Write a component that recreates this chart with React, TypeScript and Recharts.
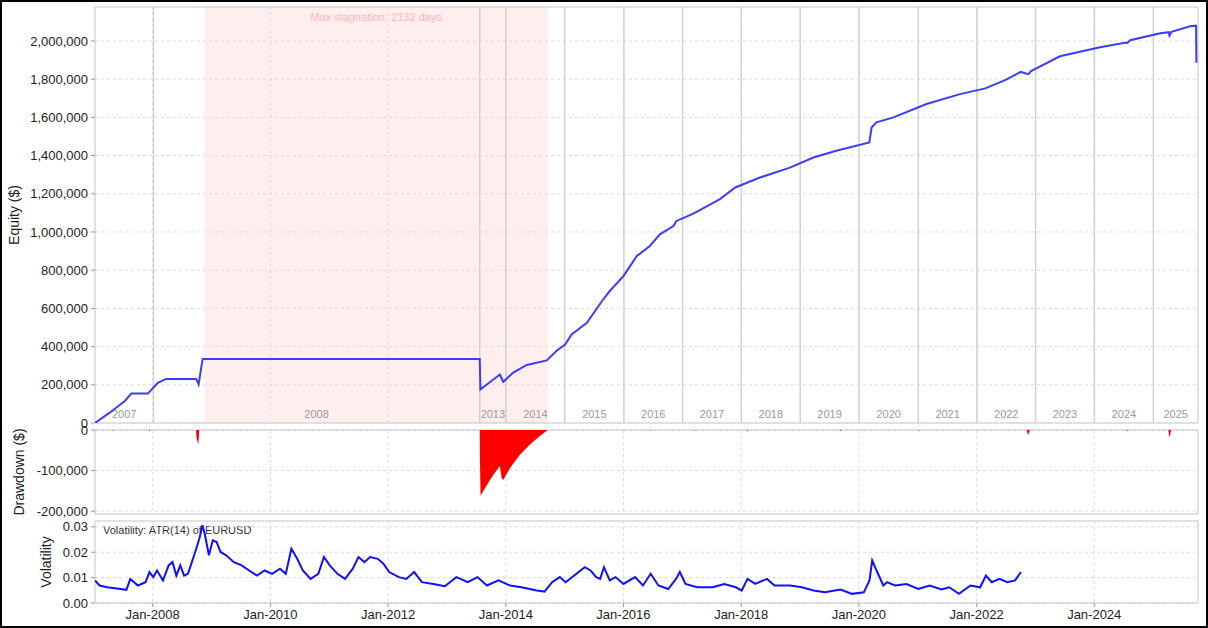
import React from "react";
import {
  LineChart,
  Line,
  AreaChart,
  Area,
  XAxis,
  YAxis,
  CartesianGrid,
  ReferenceLine,
  ReferenceArea,
} from "recharts";

// equity curve (closed trades)
const equityDates = [
  "2007-01-08", "2007-04-09", "2007-07-12", "2007-08-22", "2007-12-02",
  "2008-02-02", "2008-03-24", "2008-09-27", "2008-10-12", "2008-11-06",
  "2013-07-23", "2013-07-27", "2013-09-05", "2013-11-25", "2013-12-16",
  "2014-02-16", "2014-05-11", "2014-09-12", "2014-11-14", "2015-01-04",
  "2015-02-13", "2015-05-19", "2015-08-22", "2015-10-08", "2016-01-01",
  "2016-03-24", "2016-06-13", "2016-08-14", "2016-11-06", "2016-11-25",
  "2017-03-10", "2017-08-22", "2017-11-25", "2018-04-27", "2018-10-30",
  "2019-03-25", "2019-08-14", "2020-03-06", "2020-03-20", "2020-04-19",
  "2020-08-03", "2021-02-24", "2021-09-20", "2022-02-24", "2022-06-30",
  "2022-10-01", "2022-11-18", "2022-12-05", "2023-06-02", "2024-02-06",
  "2024-07-18", "2024-07-24", "2024-08-11", "2025-02-14", "2025-04-08",
  "2025-04-12", "2025-04-25", "2025-08-18", "2025-09-24", "2025-09-26",
];
const equityValues = [
  0, 54000, 115000, 154000, 154000,
  210000, 231000, 231000, 202000, 335000,
  335000, 176000, 202000, 254000, 216000,
  264000, 304000, 328000, 380000, 411000,
  464000, 525000, 640000, 691000, 769000,
  874000, 927000, 988000, 1031000, 1058000,
  1096000, 1172000, 1233000, 1285000, 1337000,
  1390000, 1425000, 1469000, 1547000, 1574000,
  1600000, 1670000, 1722000, 1752000, 1796000,
  1838000, 1826000, 1842000, 1920000, 1967000,
  1992000, 1989000, 2004000, 2040000, 2046000,
  2028000, 2048000, 2077000, 2080000, 1886000,
];

const drawdownDates = [
  "2007-01-08", "2007-04-23", "2007-04-28", "2007-05-03",
  "2007-12-07", "2007-12-12", "2007-12-17",
  "2008-09-26", "2008-09-29", "2008-10-11", "2008-10-16",
  "2013-07-23", "2013-07-24", "2013-07-28", "2013-09-06", "2013-10-16",
  "2013-11-25", "2013-12-06", "2013-12-16", "2014-01-26", "2014-03-29",
  "2014-05-30", "2014-07-31", "2014-09-19",
  "2016-06-15", "2016-06-20", "2016-06-25",
  "2017-03-10", "2017-03-15", "2017-03-20",
  "2018-02-04", "2018-02-09", "2018-02-14",
  "2019-09-04", "2019-09-09", "2019-09-14",
  "2021-01-05", "2021-01-10", "2021-01-15",
  "2022-11-08", "2022-11-13", "2022-11-18", "2022-11-28",
  "2024-07-17", "2024-07-22", "2024-07-27",
  "2025-04-05", "2025-04-10", "2025-04-13", "2025-04-22",
  "2025-10-06",
];
const drawdownValues = [
  0, 0, -2000, 0,
  0, -3000, 0,
  0, -20000, -35000, 0,
  0, -68000, -162000, -135000, -110000,
  -89000, -118000, -123000, -94000, -61000,
  -36000, -15000, 0,
  0, -2000, 0,
  0, -2000, 0,
  0, -4000, 0,
  0, -3000, 0,
  0, -2000, 0,
  0, -9000, -12000, 0,
  0, -3000, 0,
  0, -14000, -18000, 0,
  0,
];

// ATR(14) of EURUSD
const volDates = [
  "2007-01-08", "2007-02-06", "2007-03-25", "2007-05-12", "2007-07-22",
  "2007-08-15", "2007-10-01", "2007-11-18", "2007-12-12", "2008-01-05",
  "2008-01-28", "2008-03-05", "2008-04-09", "2008-05-03", "2008-05-27",
  "2008-06-20", "2008-07-14", "2008-08-07", "2008-08-31", "2008-09-24",
  "2008-10-17", "2008-11-05", "2008-11-21", "2008-12-15", "2009-01-08",
  "2009-02-01", "2009-02-25", "2009-04-01", "2009-05-19", "2009-07-06",
  "2009-08-22", "2009-10-09", "2009-11-26", "2010-01-11", "2010-03-01",
  "2010-04-06", "2010-05-11", "2010-06-16", "2010-07-21", "2010-09-07",
  "2010-10-25", "2010-11-29", "2011-01-04", "2011-02-21", "2011-04-09",
  "2011-05-27", "2011-07-01", "2011-08-07", "2011-09-11", "2011-10-29",
  "2011-12-03", "2012-01-08", "2012-03-08", "2012-04-23", "2012-06-11",
  "2012-07-29", "2012-10-08", "2012-12-18", "2013-02-28", "2013-05-10",
  "2013-07-09", "2013-09-06", "2013-11-16", "2014-01-27", "2014-04-08",
  "2014-07-12", "2014-08-29", "2014-10-15", "2014-12-02", "2015-01-07",
  "2015-05-06", "2015-06-11", "2015-07-16", "2015-08-09", "2015-09-02",
  "2015-10-08", "2015-11-13", "2016-01-01", "2016-03-13", "2016-05-01",
  "2016-06-18", "2016-08-05", "2016-10-05", "2016-11-22", "2016-12-16",
  "2017-01-20", "2017-04-02", "2017-07-07", "2017-09-18", "2017-11-29",
  "2018-01-04", "2018-02-09", "2018-03-29", "2018-06-09", "2018-07-27",
  "2018-11-01", "2019-01-12", "2019-03-26", "2019-06-05", "2019-09-09",
  "2019-11-20", "2020-02-01", "2020-03-07", "2020-03-24", "2020-04-24",
  "2020-06-01", "2020-06-24", "2020-08-12", "2020-10-23", "2021-01-04",
  "2021-03-16", "2021-05-28", "2021-07-15", "2021-09-13", "2021-11-24",
  "2022-01-23", "2022-02-28", "2022-04-05", "2022-05-23", "2022-07-10",
  "2022-08-28", "2022-10-03",
];
const volValues = [
  0.0089, 0.0069, 0.0062, 0.0058, 0.0052,
  0.0095, 0.0069, 0.0082, 0.0122, 0.0102,
  0.0128, 0.0089, 0.0148, 0.0161, 0.0108,
  0.0148, 0.0108, 0.0115, 0.0161, 0.0207,
  0.0254, 0.0306, 0.0267, 0.0188, 0.0247,
  0.024, 0.0201, 0.0188, 0.0161, 0.0148,
  0.0128, 0.0108, 0.0128, 0.0115, 0.0135,
  0.0115, 0.0214, 0.0174, 0.0128, 0.0095,
  0.0115, 0.0181, 0.0148, 0.0115, 0.0095,
  0.0135, 0.0181, 0.0161, 0.0181, 0.0174,
  0.0155, 0.0122, 0.0102, 0.0095, 0.0122,
  0.0082, 0.0075, 0.0066, 0.0102, 0.0082,
  0.0102, 0.0069, 0.0089, 0.0069, 0.0062,
  0.0049, 0.0045, 0.0082, 0.0102, 0.0082,
  0.0141, 0.0128, 0.0102, 0.0095, 0.0141,
  0.0089, 0.0102, 0.0075, 0.0102, 0.0069,
  0.0115, 0.0069, 0.0055, 0.0095, 0.0122,
  0.0075, 0.0062, 0.0062, 0.0075, 0.0062,
  0.0049, 0.0095, 0.0075, 0.0095, 0.0069,
  0.0069, 0.0062, 0.0049, 0.0042, 0.0053,
  0.0036, 0.0042, 0.0089, 0.0168, 0.0122,
  0.0069, 0.0082, 0.0069, 0.0075, 0.0055,
  0.0069, 0.0053, 0.0062, 0.0036, 0.0069,
  0.0062, 0.0108, 0.0082, 0.0095, 0.0082,
  0.0089, 0.0122,
];

// first trade of each year in the equity panel
const yearStarts = [
  "2008-01-06", "2013-07-23", "2014-01-02", "2015-01-02", "2016-01-04",
  "2017-01-02", "2018-01-02", "2019-01-02", "2020-01-02", "2021-01-04",
  "2022-01-03", "2023-01-02", "2024-01-02", "2025-01-02",
];
const yearLabels = [
  "2007", "2008", "2013", "2014", "2015", "2016", "2017", "2018",
  "2019", "2020", "2021", "2022", "2023", "2024", "2025",
];
const timeTicks = [
  "2008-01-01", "2010-01-01", "2012-01-01", "2014-01-01", "2016-01-01",
  "2018-01-01", "2020-01-01", "2022-01-01", "2024-01-01",
];
const equityTicks = [
  0, 200000, 400000, 600000, 800000, 1000000, 1200000, 1400000, 1600000,
  1800000, 2000000,
];
const drawdownTicks = [-200000, -100000, 0];
const volTicks = [0, 0.01, 0.02, 0.03];
const stagnationStart = "2008-11-17";
const stagnationEnd = "2014-09-19";
const xStart = "2007-01-08";
const xEnd = "2025-10-06";

const ts = (d: string) => Date.parse(d + "T00:00:00Z");
const X_DOMAIN: [number, number] = [ts(xStart), ts(xEnd)];
const EQ_DOMAIN: [number, number] = [0, 2178000];
const DD_DOMAIN: [number, number] = [-207000, 0];
const VOL_DOMAIN: [number, number] = [0, 0.0323];

const equityData = equityDates.map((d, i) => ({ t: ts(d), equity: equityValues[i] }));
const drawdownData = drawdownDates.map((d, i) => ({ t: ts(d), dd: drawdownValues[i] }));
const volData = volDates.map((d, i) => ({ t: ts(d), atr: volValues[i] }));

const yearBounds = [ts(xStart), ...yearStarts.map(ts), ts(xEnd)];
const tickTimes = timeTicks.map(ts);

const FONT = "'Liberation Sans', Arial, Helvetica, sans-serif";
const GRID = "#dcdcdc";
const BORDER = "#c4c4c4";

const fmtNum = (v: number) => v.toLocaleString("en-US");
const tickStyle = { fontSize: 13, fill: "#222" };

const AxisTitle: React.FC<{ x: number; y: number; text: string }> = ({ x, y, text }) => (
  <div
    style={{
      position: "absolute",
      left: x,
      top: y,
      transform: "translate(-50%, -50%) rotate(-90deg)",
      whiteSpace: "nowrap",
      fontSize: 14,
      color: "#222",
    }}
  >
    {text}
  </div>
);

const yAxisProps = {
  type: "number" as const,
  interval: 0 as const,
  width: 95,
  axisLine: false,
  tickSize: 4,
  tickMargin: 3,
  tickLine: { stroke: "#999" },
  tick: tickStyle,
  allowDataOverflow: true,
};

const border = (domain: [number, number]) => (
  <ReferenceArea
    x1={X_DOMAIN[0]}
    x2={X_DOMAIN[1]}
    y1={domain[0]}
    y2={domain[1]}
    fill="none"
    stroke={BORDER}
  />
);

export default function App() {
  return (
    <div
      style={{
        position: "absolute",
        left: 0,
        top: 0,
        width: 1208,
        height: 628,
        background: "#fff",
        fontFamily: FONT,
        overflow: "hidden",
      }}
    >
      <AxisTitle x={14} y={215} text="Equity ($)" />
      <AxisTitle x={19} y={472} text="Drawdown ($)" />
      <AxisTitle x={46} y={562} text="Volatility" />

      <div
        style={{
          position: "absolute",
          left: 103,
          top: 524,
          fontSize: 11,
          lineHeight: "13px",
          color: "#333",
          whiteSpace: "nowrap",
        }}
      >
        Volatility: ATR(14) of EURUSD
      </div>

      {/* volatility */}
      <div style={{ position: "absolute", left: 0, top: 506 }}>
        <LineChart
          width={1208}
          height={122}
          data={volData}
          margin={{ top: 15, bottom: 0, left: 0, right: 10 }}
        >
          <CartesianGrid
            stroke={GRID}
            strokeDasharray="3 3"
            verticalValues={tickTimes}
            horizontalValues={volTicks}
          />
          <XAxis
            dataKey="t"
            type="number"
            domain={X_DOMAIN}
            allowDataOverflow
            ticks={tickTimes}
            interval={0}
            height={25}
            axisLine={false}
            tickSize={4}
            tickMargin={3}
            tickLine={{ stroke: "#999" }}
            tick={tickStyle}
            tickFormatter={(v: number) => "Jan-" + new Date(v).getUTCFullYear()}
          />
          <YAxis
            {...yAxisProps}
            domain={VOL_DOMAIN}
            ticks={volTicks}
            tickFormatter={(v: number) => v.toFixed(2)}
          />
          {border(VOL_DOMAIN)}
          <Line
            type="linear"
            dataKey="atr"
            stroke="#1010ff"
            strokeWidth={2}
            dot={false}
            isAnimationActive={false}
          />
        </LineChart>
      </div>

      {/* drawdown */}
      <div style={{ position: "absolute", left: 0, top: 416 }}>
        <AreaChart
          width={1208}
          height={110}
          data={drawdownData}
          margin={{ top: 14, bottom: 12, left: 0, right: 10 }}
        >
          <CartesianGrid
            stroke={GRID}
            strokeDasharray="3 3"
            verticalValues={tickTimes}
            horizontalValues={drawdownTicks}
          />
          <XAxis dataKey="t" type="number" domain={X_DOMAIN} allowDataOverflow hide />
          <YAxis {...yAxisProps} domain={DD_DOMAIN} ticks={drawdownTicks} tickFormatter={fmtNum} />
          {border(DD_DOMAIN)}
          <Area
            type="linear"
            dataKey="dd"
            baseValue={0}
            stroke="none"
            fill="#ff0000"
            fillOpacity={1}
            dot={false}
            isAnimationActive={false}
          />
        </AreaChart>
      </div>

      {/* equity */}
      <div style={{ position: "absolute", left: 0, top: 0 }}>
        <LineChart
          width={1208}
          height={440}
          data={equityData}
          margin={{ top: 7, bottom: 17, left: 0, right: 10 }}
        >
          <XAxis dataKey="t" type="number" domain={X_DOMAIN} allowDataOverflow hide />
          <YAxis {...yAxisProps} domain={EQ_DOMAIN} ticks={equityTicks} tickFormatter={fmtNum} />
          <ReferenceArea
            x1={ts(stagnationStart)}
            x2={ts(stagnationEnd)}
            fill="#ffeeee"
            fillOpacity={1}
            stroke="none"
            label={{
              value: "Max stagnation: 2132 days",
              position: "insideTop",
              offset: 6,
              fill: "#ffb6b6",
              fontSize: 11,
            }}
          />
          {tickTimes.map((x) => (
            <ReferenceLine key={"ev" + x} x={x} stroke={GRID} strokeDasharray="3 3" />
          ))}
          {equityTicks.map((y) => (
            <ReferenceLine key={"eh" + y} y={y} stroke={GRID} strokeDasharray="3 3" />
          ))}
          {yearStarts.map((d) => (
            <ReferenceLine key={"ys" + d} x={ts(d)} stroke="#d2d2d2" strokeWidth={1.5} />
          ))}
          {yearLabels.map((y, i) => (
            <ReferenceArea
              key={"yl" + y}
              x1={yearBounds[i]}
              x2={yearBounds[i + 1]}
              fill="none"
              stroke="none"
              label={{ value: y, position: "insideBottom", offset: 5, fill: "#9a9a9a", fontSize: 11 }}
            />
          ))}
          {border(EQ_DOMAIN)}
          <Line
            type="linear"
            dataKey="equity"
            stroke="#3c3cff"
            strokeWidth={2}
            dot={false}
            isAnimationActive={false}
          />
        </LineChart>
      </div>

      <div
        style={{
          position: "absolute",
          left: 0,
          top: 0,
          width: 1208,
          height: 628,
          boxSizing: "border-box",
          border: "2px solid #000",
          pointerEvents: "none",
        }}
      />
    </div>
  );
}
